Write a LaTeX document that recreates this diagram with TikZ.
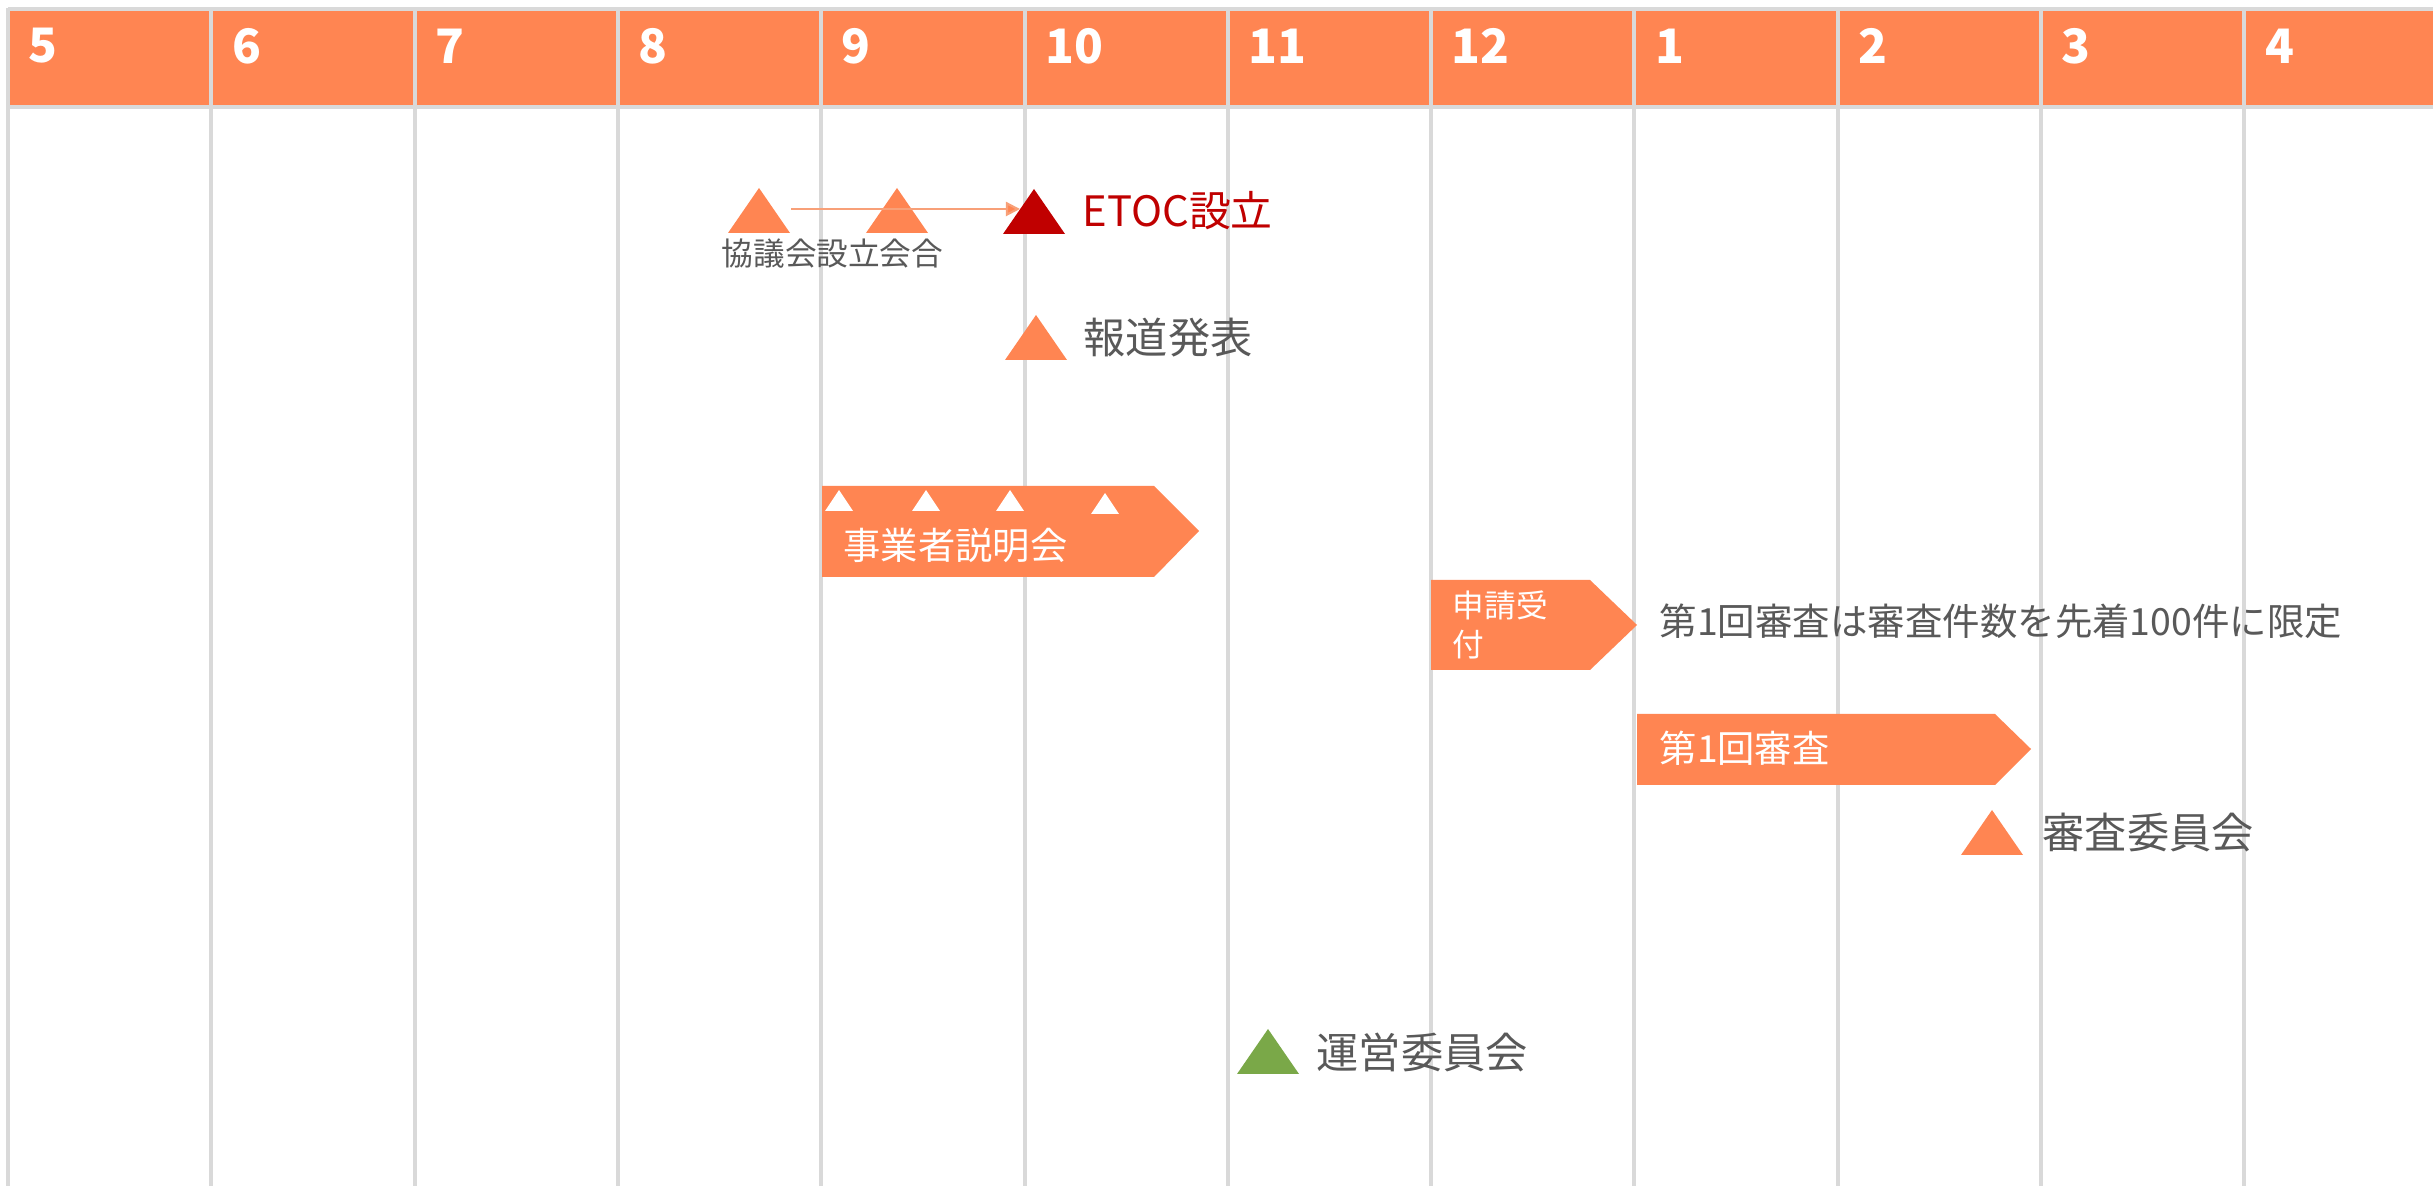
\documentclass[tikz,border=0pt]{standalone}
\usepackage{fontspec}
\setmainfont{Noto Sans CJK JP}
\usetikzlibrary{arrows.meta}

\newlength{\du}
\setlength{\du}{0.01cm}

\definecolor{barorange}{RGB}{255,133,82}
\definecolor{lineorange}{RGB}{248,160,120}
\definecolor{gridgray}{RGB}{217,217,217}
\definecolor{textgray}{RGB}{89,89,89}
\definecolor{etocred}{RGB}{192,0,0}
\definecolor{unigreen}{RGB}{122,168,72}

\tikzset{
  gridline/.style={draw=gridgray, line width=4\du},
  monthlabel/.style={anchor=west, text=white, inner sep=0pt, font=\bfseries\fontsize{13.5}{16}\selectfont},
  eventlabel/.style={anchor=west, text=textgray, inner sep=0pt, font=\fontsize{12}{14}\selectfont},
  barlabel/.style={anchor=west, text=white, inner sep=0pt, font=\fontsize{10.6}{13}\selectfont},
  flowarrow/.style={draw=lineorange, line width=0.6pt, -{Triangle[length=4pt, width=4pt, fill=barorange]}},
}

% milestone triangle: centre x, base y, colour
\newcommand{\milestone}[3]{\fill[#3] (#1-31,#2) -- (#1+31,#2) -- (#1,#2-45) -- cycle;}
% small white tick on a bar
\newcommand{\tick}[2]{\fill[white] (#1-14,#2) -- (#1+14,#2) -- (#1,#2-21) -- cycle;}

\begin{document}
\begin{tikzpicture}[x=\du, y=-\du]
\useasboundingbox (0,0) rectangle (2433,1186);
\fill[white] (0,0) rectangle (2433,1186);

% month header
\fill[barorange] (8,10) rectangle (2433,106);
\draw[gridline] (8,9) -- (2433,9);
\draw[gridline] (8,107) -- (2433,107);
\foreach \i in {0,...,11}
  \draw[gridline] (8+203.3*\i,8) -- (8+203.3*\i,1186);
\foreach \m [count=\i from 0] in {5,6,7,8,9,10,11,12,1,2,3,4}
  \node[monthlabel] (month\i) at (28+203.3*\i,46) {\m};

% establishment
\milestone{759}{233}{barorange}
\milestone{897}{233}{barorange}
\milestone{1034}{234}{etocred}
\coordinate (kyogiS) at (791,209);
\coordinate (etocW) at (1020,209);
\draw[flowarrow] (kyogiS) -- (etocW);
\node[anchor=west, text=textgray, inner sep=0pt, font=\fontsize{9}{11}\selectfont] (kyogi) at (721,254) {協議会設立会合};
\node[anchor=west, text=etocred, inner sep=0pt, font=\fontsize{11.9}{14}\selectfont] (etoc) at (1082,211) {ETOC設立};

\milestone{1036}{360}{barorange}
\node[eventlabel] (press) at (1083,338) {報道発表};

% briefing sessions
\fill[barorange] (822,486) -- (1154,486) -- (1199,531) -- (1154,577) -- (822,577) -- cycle;
\tick{839}{511}
\tick{926}{511}
\tick{1010}{511}
\tick{1105}{514}
\node[barlabel] (setsumei) at (843,545) {事業者説明会};

% application
\fill[barorange] (1431,580) -- (1590,580) -- (1637,625) -- (1590,670) -- (1431,670) -- cycle;
\node[barlabel, align=left, font=\fontsize{9}{11}\selectfont] (uketsuke) at (1452,625) {申請受\\付};
\node[eventlabel, font=\fontsize{10.65}{13}\selectfont] (gentei) at (1659,621) {第1回審査は審査件数を先着100件に限定};

% first review
\fill[barorange] (1637,714) -- (1995,714) -- (2031,749) -- (1995,785) -- (1637,785) -- cycle;
\node[barlabel] (shinsa) at (1659,748) {第1回審査};

\milestone{1992}{855}{barorange}
\node[eventlabel] (iinkai) at (2042,833) {審査委員会};

\milestone{1268}{1074}{unigreen}
\node[eventlabel] (unei) at (1316,1052) {運営委員会};
\end{tikzpicture}
\end{document}
